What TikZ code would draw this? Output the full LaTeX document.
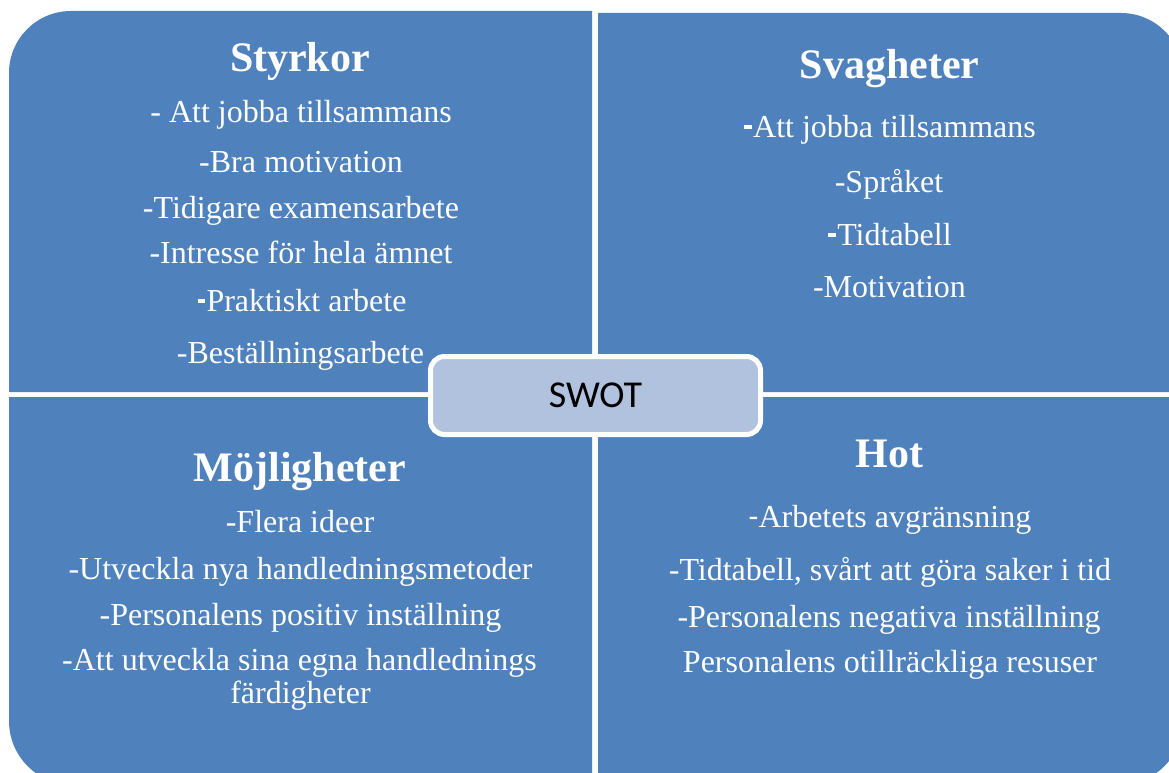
\documentclass[tikz,border=0pt]{standalone}
\usepackage{fontspec}
\setmainfont{Liberation Serif}
\setsansfont{Carlito}
\usepackage{tikz}
\usetikzlibrary{positioning}
\definecolor{quadblue}{HTML}{4F81BD}
\definecolor{swotfill}{HTML}{B1C2DE}
\newcommand{\bdash}{\rule[0.24em]{0.24em}{0.12em}\kern0.04em}

\begin{document}
\begin{tikzpicture}[x = 1pt, y = -1pt]
	\tikzstyle{every node} = [text = white, anchor = base, inner sep = 0pt]
	\tikzstyle{title} = [font = \fontsize{42}{42}\selectfont\bfseries]
	\tikzstyle{item} = [font = \fontsize{32}{32}\selectfont]

\useasboundingbox (0,0) rectangle (1169,773);
\clip (0,0) rectangle (1169,773);

% the four fields
\fill[quadblue] (9,392) [rounded corners = 62pt] -- (9,11) [sharp corners] -- (592,11) -- (592,392) -- cycle;
\fill[quadblue] (598,392) -- (598,13) [rounded corners = 62pt] -- (1183,13) [sharp corners] -- (1183,392) -- cycle;
\fill[quadblue] (592,397) -- (9,397) [rounded corners = 64pt] -- (9,785) [sharp corners] -- (592,785) -- cycle;
\fill[quadblue] (598,397) -- (1183,397) [rounded corners = 64pt] -- (1183,785) [sharp corners] -- (598,785) -- cycle;

% Styrkor
\node[title] (st) at (300,72) {Styrkor};
\node[item] (s1) at (301,123) {- Att jobba tillsammans};
\node[item] (s2) at (301,172) {-Bra motivation};
\node[item] (s3) at (301,218) {-Tidigare examensarbete};
\node[item] (s4) at (301,263) {-Intresse för hela ämnet};
\node[item] (s5) at (302,311) {\bdash Praktiskt arbete};
\node[item] (s6) at (300.5,363) {-Beställningsarbete};

% Svagheter
\node[title] (sv) at (889.5,79) {Svagheter};
\node[item] (v1) at (890,137) {\bdash Att jobba tillsammans};
\node[item] (v2) at (889,192) {-Språket};
\node[item] (v3) at (890,245) {\bdash Tidtabell};
\node[item] (v4) at (889.5,297) {-Motivation};

% Möjligheter
\node[title] (mo) at (300,481) {Möjligheter};
\node[item] (m1) at (300,532) {-Flera ideer};
\node[item] (m2) at (300.5,579) {-Utveckla nya handledningsmetoder};
\node[item] (m3) at (300.5,625) {-Personalens positiv inställning};
\node[item] (m4) at (299.5,670) {-Att utveckla sina egna handlednings};
\node[item] (m5) at (300.5,703) {färdigheter};

% Hot
\node[title] (ho) at (889.5,467) {Hot};
\node[item] (h1) at (890,527) {{\sffamily -}Arbetets avgränsning};
\node[item] (h2) at (890,580) {-Tidtabell, svårt att göra saker i tid};
\node[item] (h3) at (889,627) {-Personalens negativa inställning};
\node[item] (h4) at (890,672) {Personalens otillräckliga resuser};

% centre box
\node[anchor = center, draw = white, line width = 5pt, fill = swotfill, rounded corners = 14pt,
      minimum width = 330pt, minimum height = 78pt, text = black,
      font = \sffamily\fontsize{38}{38}\selectfont] (swot) at (595.5,395.5) {SWOT};
\end{tikzpicture}
\end{document}
